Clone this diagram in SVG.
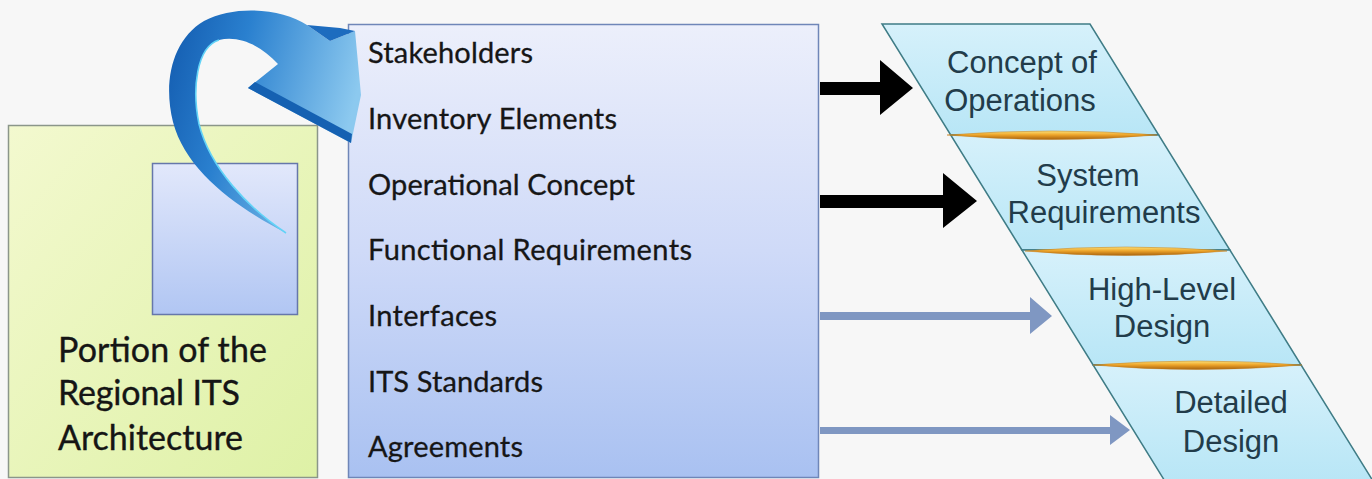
<svg xmlns="http://www.w3.org/2000/svg" width="1372" height="479" viewBox="0 0 1372 479">
<defs>
<linearGradient id="gGreen" x1="0" y1="0" x2="1" y2="1">
<stop offset="0" stop-color="#f3f9cf"/>
<stop offset="1" stop-color="#def1a6"/>
</linearGradient>
<linearGradient id="gBlueBox" x1="0" y1="0" x2="0" y2="1">
<stop offset="0" stop-color="#eceffb"/>
<stop offset="0.5" stop-color="#cfdaf8"/>
<stop offset="1" stop-color="#a9c1f1"/>
</linearGradient>
<linearGradient id="gSquare" x1="0" y1="0" x2="0" y2="1">
<stop offset="0" stop-color="#e2e8fb"/>
<stop offset="1" stop-color="#b1c6f3"/>
</linearGradient>
<linearGradient id="gCyan" x1="0" y1="0" x2="0" y2="1">
<stop offset="0" stop-color="#d6f1fb"/>
<stop offset="1" stop-color="#b8e6f6"/>
</linearGradient>
<linearGradient id="gLens" x1="0" y1="0" x2="0" y2="1">
<stop offset="0" stop-color="#fbe27a"/>
<stop offset="0.45" stop-color="#eea52a"/>
<stop offset="1" stop-color="#a8620e"/>
</linearGradient>
<linearGradient id="gCurve" x1="0" y1="0" x2="1" y2="0.3">
<stop offset="0" stop-color="#125aae"/>
<stop offset="0.4" stop-color="#2a80cf"/>
<stop offset="1" stop-color="#8cc9ef"/>
</linearGradient>
<style>
.list{font-family:"Lato","Open Sans","Liberation Sans",sans-serif;font-size:29px;fill:#161616;stroke:#161616;stroke-width:0.3}
.big{font-family:"Lato","Open Sans","Liberation Sans",sans-serif;font-size:34px;fill:#151515;stroke:#151515;stroke-width:0.35}
.stage{font-family:"Liberation Sans",Arial,sans-serif;font-size:31px;fill:#223c4a;text-anchor:middle}
.sec{fill:url(#gCyan);stroke:#3f7c86;stroke-width:1.5}
.lens{fill:url(#gLens);stroke:#c27a18;stroke-width:0.5}
.blk{fill:#000}
.gry{fill:#7f97c2}
</style>
</defs>
<rect x="0" y="0" width="1372" height="479" fill="#f7f7f7"/>

<g id="regional-architecture">
<rect x="8.5" y="125.5" width="309" height="352" fill="url(#gGreen)" stroke="#8b968a" stroke-width="1.5"/>
<rect x="152.5" y="163.5" width="145" height="151" fill="url(#gSquare)" stroke="#6677aa" stroke-width="1.5"/>
<text class="big" x="58" y="362" textLength="209">Portion of the</text>
<text class="big" x="58" y="405" textLength="182">Regional ITS</text>
<text class="big" x="58" y="450" textLength="185">Architecture</text>
</g>

<g id="architecture-elements">
<rect x="348.5" y="24.5" width="470" height="453" fill="url(#gBlueBox)" stroke="#6f86b8" stroke-width="1.5"/>
<text class="list" x="368" y="63" textLength="165">Stakeholders</text>
<text class="list" x="368" y="129" textLength="249">Inventory Elements</text>
<text class="list" x="368" y="195" textLength="267">Operational Concept</text>
<text class="list" x="368" y="260" textLength="324">Functional Requirements</text>
<text class="list" x="368" y="326" textLength="129">Interfaces</text>
<text class="list" x="368" y="392" textLength="175">ITS Standards</text>
<text class="list" x="368" y="457" textLength="155">Agreements</text>
</g>

<g id="curved-arrow">
<path d="M286,233 C238,208 186,172 173,122 C163,82 172,40 204,21 C236,4 283,9 307,25 L330,41 L355,31 L361,95 L351,143 L248,88 L278,64 C262,47 241,35 219,40 C196,47 192,90 199,124 C210,168 248,208 286,233 Z" fill="url(#gCurve)"/>
<path d="M248,88 L351,143 L352,134 L255,82 Z" fill="#1561b2"/>
<path d="M307,25 L330,41 L355,31 L340,28 Z" fill="#1d6cbf"/>
<path d="M219,40 C196,47 192,90 199,124 C210,168 248,208 286,233" fill="none" stroke="#62d3f7" stroke-width="1.6"/>
</g>

<g id="stages">
<g id="stage-conops">
<polygon class="sec" points="882,24 1090,24 1158.7,135 950.7,135"/>
<text class="stage" x="1022" y="73">Concept of</text>
<text class="stage" x="1020" y="111">Operations</text>
</g>
<g id="stage-sysreq">
<polygon class="sec" points="950.7,135 1158.7,135 1229.9,250 1021.9,250"/>
<text class="stage" x="1088" y="186">System</text>
<text class="stage" x="1104" y="223">Requirements</text>
</g>
<g id="stage-hld">
<polygon class="sec" points="1021.9,250 1229.9,250 1301.1,365 1093.1,365"/>
<text class="stage" x="1162" y="300">High-Level</text>
<text class="stage" x="1162" y="337">Design</text>
</g>
<g id="stage-dd">
<polygon class="sec" points="1093.1,365 1301.1,365 1373,481 1164.8,481"/>
<text class="stage" x="1231" y="413">Detailed</text>
<text class="stage" x="1231" y="452">Design</text>
</g>
<path class="lens" d="M947,135 Q1052,127 1157,135 Q1052,144 947,135 Z"/>
<path class="lens" d="M1025,251 Q1126,243 1227,251 Q1126,260 1025,251 Z"/>
<path class="lens" d="M1093,365 Q1197,357 1302,365 Q1197,374 1093,365 Z"/>
</g>

<g id="connectors">
<path class="blk" d="M820,82 H880 V60 L913,88 L880,115 V95 H820 Z"/>
<path class="blk" d="M820,195 H943 V173 L977,201 L943,228 V208 H820 Z"/>
<path class="gry" d="M820,312 H1030 V297 L1052,316 L1030,334 V320 H820 Z"/>
<path class="gry" d="M820,427 H1110 V415 L1130,430 L1110,445 V434 H820 Z"/>
</g>
</svg>
